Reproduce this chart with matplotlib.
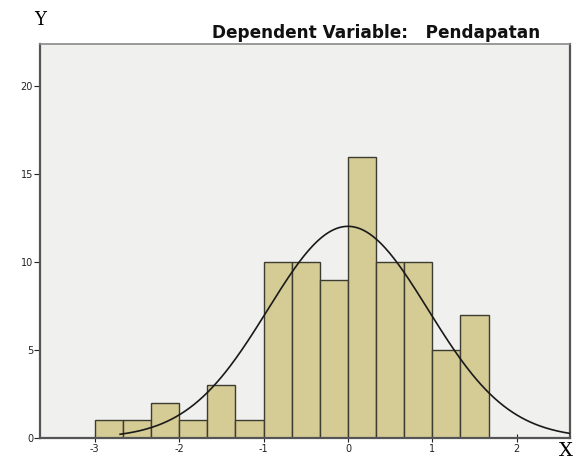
import numpy as np
from matplotlib import pyplot as plt

# histogram of standardized residuals, bins of 1/3
bin_edges = [-3, -8/3, -7/3, -2, -5/3, -4/3, -1, -2/3, -1/3, 0, 1/3, 2/3, 1, 4/3, 5/3]
counts = [1, 1, 2, 1, 3, 1, 10, 10, 9, 16, 10, 10, 5, 7]
mean = 0.0
std = 0.95
xticks = [-3, -2, -1, 0, 1, 2]
xtick_labels = ['-3', '-2', '-1', '0', '1', '2']
yticks = [0, 5, 10, 15, 20]

fig = plt.figure(figsize=(5.81, 4.59), dpi=100)
ax = fig.add_axes([0.0688, 0.0458, 0.912, 0.858])
ax.set_facecolor('#f0f0ef')

left = np.array(bin_edges[:-1])
width = np.diff(bin_edges)
ax.bar(left, counts, width=width, align='edge', color='#d4cb95',
       edgecolor='#3c3c30', linewidth=1.0, zorder=2)

# normal curve scaled to counts
n = sum(counts)
bw = 1/3
xs = np.linspace(-2.7, 2.63, 300)
ys = n*bw/(std*np.sqrt(2*np.pi))*np.exp(-0.5*((xs-mean)/std)**2)
ax.plot(xs, ys, color='#1a1a1a', linewidth=1.2, zorder=3)

ax.set_xlim(-3.65, 2.63)
ax.set_ylim(0, 22.4)
ax.set_xticks(xticks)
ax.set_xticklabels(xtick_labels)
ax.set_yticks(yticks)
ax.tick_params(axis='x', direction='inout', length=6, labelsize=7, pad=1, colors='#222222')
ax.tick_params(axis='y', direction='out', length=4, labelsize=7, pad=1, colors='#222222')

for s in ['left', 'right', 'bottom']:
    ax.spines[s].set_color('#555555')
    ax.spines[s].set_linewidth(1.6)
ax.spines['top'].set_color('#8a8a8a')
ax.spines['top'].set_linewidth(1.2)

fig.text(40/581, 1-20/459, 'Y', family='DejaVu Serif', fontsize=13, ha='center', va='center')
fig.text(566/581, 1-451/459, 'X', family='DejaVu Serif', fontsize=14, ha='center', va='center')
fig.text(540/581, 1-33/459, 'Dependent Variable:   Pendapatan', fontsize=12.2,
         fontweight='bold', ha='right', va='center', color='#111111')

fig.savefig('out.png', dpi=100)
